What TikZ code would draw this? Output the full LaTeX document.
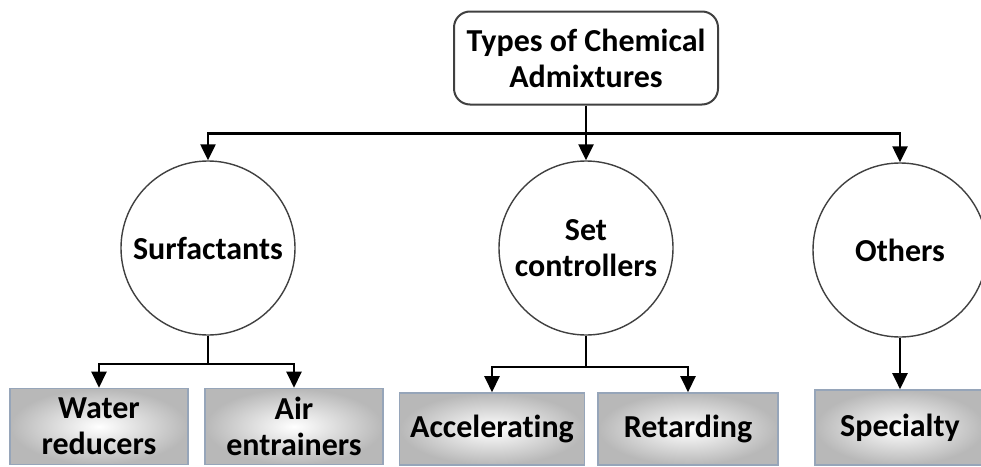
\documentclass[tikz,border=0pt]{standalone}
\usepackage{fontspec}
\setmainfont{Carlito}[Ligatures=NoCommon]
\usetikzlibrary{arrows.meta,positioning,shapes}

\definecolor{boxedge}{RGB}{150,165,185}

\begin{document}
\begin{tikzpicture}[x=1pt, y=-1pt, auto,
    font=\fontsize{32}{36}\selectfont\bfseries,
    link/.style={line width=2.4pt, -{Triangle[width=15pt,length=16pt]}},
    group/.style={circle, draw=black!75, line width=1.4pt, minimum size=174pt, inner sep=0pt, align=center},
    leaf/.style={rectangle, draw=boxedge, line width=1.6pt, inner color=white, outer color=black!28, minimum height=76pt, inner sep=2pt, align=center}]
    \useasboundingbox (0,0) rectangle (981,466);
    \node[rectangle, rounded corners=16pt, draw=black!75, line width=2pt, minimum width=264pt, minimum height=93pt, align=center] (types) at (586,58) {Types of Chemical\\Admixtures};
    \node[group] (surf) at (208,248) {Surfactants};
    \node[group] (setc) at (586,248) {Set\\controllers};
    \node[group] (others) at (900,250) {Others};
    \node[leaf, minimum width=178pt] (water) at (99,426.5) {Water\\reducers};
    \node[leaf, minimum width=178pt] (air) at (294,426.5) {Air\\entrainers};
    \node[leaf, minimum width=185pt, minimum height=72pt] (accel) at (492,429) {Accelerating};
    \node[leaf, minimum width=180pt, minimum height=72pt] (retard) at (688,429) {Retarding};
    \node[leaf, minimum width=170pt, minimum height=75pt] (special) at (900,427.5) {Specialty};
    % top level
    \draw[link] (types.south) -- ++(0,28) -| (surf.north);
    \draw[link] (types.south) -- (setc.north);
    \draw[link] (types.south) -- ++(0,28) -| (others.north);
    % second level
    \draw[link] (surf.south) -- ++(0,28) -| (water.north);
    \draw[link] (surf.south) -- ++(0,28) -| (air.north);
    \draw[link] (setc.south) -- ++(0,31) -| (accel.north);
    \draw[link] (setc.south) -- ++(0,31) -| (retard.north);
    \draw[link] (others.south) -- (special.north);
\end{tikzpicture}
\end{document}
